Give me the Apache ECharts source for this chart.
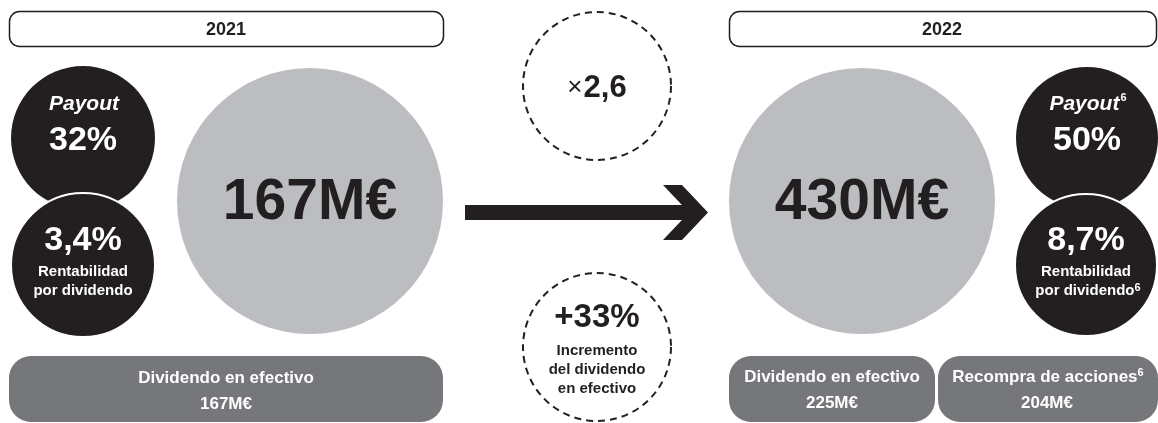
<!DOCTYPE html>
<html>
<head>
<meta charset="utf-8">
<title>Dividendo 2021 - 2022</title>
<script src="https://cdn.jsdelivr.net/npm/echarts@6/dist/echarts.min.js"></script>
<style>
  html, body { margin: 0; padding: 0; background: #fff; }
  #main { width: 1158px; height: 423px; }
</style>
</head>
<body>
<div id="main"></div>
<script>
// datos
var years = ['2021', '2022'];
var totalDividend = [167, 430];          // M€
var payoutPct = [32, 50];
var dividendYield = [3.4, 8.7];
var cashDividend = [167, 225];           // M€
var shareBuyback = [null, 204];          // M€
var growthMultiple = 2.6;
var cashGrowthPct = 33;

var DARK = '#231f20';
var GREY = '#bcbdc0';
var PILL = '#76777b';
var FONT = '"Liberation Sans", Arial, sans-serif';

function fmt(v) { return String(v).replace('.', ','); }

function circle(cx, cy, r, style) {
  return { type: 'circle', shape: { cx: cx, cy: cy, r: r }, style: style };
}
function txt(x, y, str, size, color, extra) {
  var st = {
    text: str, x: x, y: y, fill: color,
    font: (extra && extra.font) || ('bold ' + size + 'px ' + FONT),
    align: 'center', verticalAlign: 'middle',
    textAlign: 'center', textVerticalAlign: 'middle'
  };
  if (extra && extra.rich) st.rich = extra.rich;
  return { type: 'text', style: st, z: 10 };
}
function pill(x, y, w, h, l1, l2) {
  return [
    { type: 'rect', shape: { x: x, y: y, width: w, height: h, r: 22 }, style: { fill: PILL } },
    l1, l2
  ];
}

var sup = { fontSize: 11, fontWeight: 'bold', fontFamily: FONT, fill: '#fff', verticalAlign: 'top' };

var els = [];

// cabeceras
els.push({ type: 'rect', shape: { x: 9.5, y: 11.5, width: 434, height: 35, r: 10 }, style: { fill: '#fff', stroke: DARK, lineWidth: 1.5 } });
els.push(txt(226, 30, years[0], 18, DARK));
els.push({ type: 'rect', shape: { x: 729.5, y: 11.5, width: 427, height: 35, r: 10 }, style: { fill: '#fff', stroke: DARK, lineWidth: 1.5 } });
els.push(txt(942, 30, years[1], 18, DARK));

// 2021: círculos negros
els.push(circle(83, 138, 72, { fill: DARK }));
els.push(txt(84, 104, 'Payout', 21, '#fff', { font: 'italic bold 21px ' + FONT }));
els.push(txt(83, 141, payoutPct[0] + '%', 34, '#fff'));
els.push(circle(83, 265, 72, { fill: DARK, stroke: '#fff', lineWidth: 2 }));
els.push(txt(83, 241, fmt(dividendYield[0]) + '%', 34, '#fff'));
els.push(txt(83, 272, 'Rentabilidad', 15, '#fff'));
els.push(txt(83, 291, 'por dividendo', 15, '#fff'));

// 2021: círculo gris
els.push(circle(310, 201, 133, { fill: GREY }));
els.push(txt(310, 203, totalDividend[0] + 'M€', 57, DARK));

// flecha
els.push({ type: 'rect', shape: { x: 465, y: 205, width: 226, height: 15 }, style: { fill: DARK } });
els.push({ type: 'polygon', shape: { points: [[663, 185], [682, 185], [708, 212.5], [682, 240], [663, 240], [689, 212.5]] }, style: { fill: DARK } });

// círculos discontinuos
var dash = { fill: 'none', stroke: DARK, lineWidth: 2, lineDash: [7, 5] };
els.push(circle(597, 86, 74, dash));
els.push(txt(597, 88, '{x|×}{n|' + fmt(growthMultiple) + '}', 30, DARK, {
  rich: {
    x: { fontSize: 26, fontFamily: FONT, fill: DARK, padding: [0, 1, 0, 0] },
    n: { fontSize: 31, fontWeight: 'bold', fontFamily: FONT, fill: DARK }
  }
}));
els.push(circle(597, 347, 74, dash));
els.push(txt(597, 318, '+' + cashGrowthPct + '%', 33, DARK));
els.push(txt(597, 351, 'Incremento', 15, DARK));
els.push(txt(597, 370, 'del dividendo', 15, DARK));
els.push(txt(597, 389, 'en efectivo', 15, DARK));

// 2022: círculo gris
els.push(circle(862, 201, 133, { fill: GREY }));
els.push(txt(862, 203, totalDividend[1] + 'M€', 57, DARK));

// 2022: círculos negros
els.push(circle(1087, 138, 71, { fill: DARK }));
els.push(txt(1088, 104, '{p|Payout}{g| }{s|6}', 21, '#fff', {
  rich: {
    p: { fontSize: 21, fontWeight: 'bold', fontStyle: 'italic', fontFamily: FONT, fill: '#fff', lineHeight: 24 },
    g: { fontSize: 4, fontFamily: FONT },
    s: sup
  }
}));
els.push(txt(1087, 141, payoutPct[1] + '%', 34, '#fff'));
els.push(circle(1086, 265, 71, { fill: DARK, stroke: '#fff', lineWidth: 2 }));
els.push(txt(1086, 241, fmt(dividendYield[1]) + '%', 34, '#fff'));
els.push(txt(1086, 272, 'Rentabilidad', 15, '#fff'));
els.push(txt(1088, 291, '{t|por dividendo}{s|6}', 15, '#fff', {
  rich: {
    t: { fontSize: 15, fontWeight: 'bold', fontFamily: FONT, fill: '#fff', lineHeight: 18 },
    s: sup
  }
}));

// pastillas inferiores
els = els.concat(pill(9, 356, 434, 66,
  txt(226, 378, 'Dividendo en efectivo', 17, '#fff'),
  txt(226, 404, cashDividend[0] + 'M€', 17, '#fff')));
els = els.concat(pill(729, 356, 206, 66,
  txt(832, 377, 'Dividendo en efectivo', 17, '#fff'),
  txt(832, 403, cashDividend[1] + 'M€', 17, '#fff')));
els = els.concat(pill(938, 356, 220, 66,
  txt(1048, 377, '{t|Recompra de acciones}{s|6}', 17, '#fff', {
    rich: {
      t: { fontSize: 17, fontWeight: 'bold', fontFamily: FONT, fill: '#fff', lineHeight: 20 },
      s: sup
    }
  }),
  txt(1047, 403, shareBuyback[1] + 'M€', 17, '#fff')));

var chart = echarts.init(document.getElementById('main'));
chart.setOption({
  animation: false,
  backgroundColor: '#fff',
  graphic: { elements: els }
});
</script>
</body>
</html>
